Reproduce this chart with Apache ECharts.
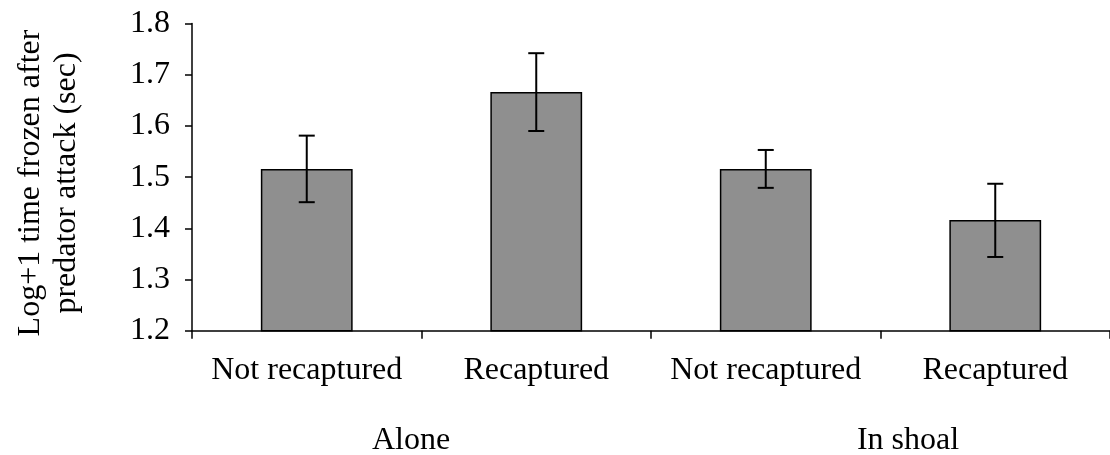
<!DOCTYPE html>
<html>
<head>
<meta charset="utf-8">
<script src="https://cdn.jsdelivr.net/npm/echarts@6/dist/echarts.min.js"></script>
<style>html,body{margin:0;padding:0;background:#fff}#c{width:1110px;height:455px}</style>
</head>
<body>
<div id="c"></div>
<script>
const categories = ['Not recaptured', 'Recaptured', 'Not recaptured', 'Recaptured'];
const groups = ['Alone', 'In shoal'];
const means = [1.516, 1.666, 1.516, 1.416];
const errLow = [1.451, 1.590, 1.479, 1.344];
const errHigh = [1.581, 1.742, 1.553, 1.487];
const yTicks = [1.2, 1.3, 1.4, 1.5, 1.6, 1.7, 1.8];
const yTitle = ['Log+1 time frozen after', 'predator attack (sec)'];

const FONT = '"Liberation Serif", "Times New Roman", serif';
const FS = 32;
const chart = echarts.init(document.getElementById('c'));
const errData = categories.map((c, i) => [i, errLow[i], errHigh[i]]);

chart.setOption({
  animation: false,
  backgroundColor: '#fff',
  grid: { left: 192, top: 23.5, width: 925, height: 307.2 },
  xAxis: {
    type: 'category',
    data: categories,
    axisLine: { lineStyle: { color: '#000', width: 1.5 } },
    axisTick: { show: true, length: 8, inside: false, lineStyle: { color: '#000', width: 1.5 } },
    axisLabel: { color: '#000', fontFamily: FONT, fontSize: FS, margin: 24, interval: 0 }
  },
  yAxis: {
    type: 'value',
    min: 1.2, max: 1.8, interval: 0.1,
    splitLine: { show: false },
    axisLine: { show: true, lineStyle: { color: '#000', width: 1.5 } },
    axisTick: { show: true, length: 7, lineStyle: { color: '#000', width: 1.5 } },
    axisLabel: {
      color: '#000', fontFamily: FONT, fontSize: FS, margin: 22,
      formatter: v => { const t = yTicks.find(x => Math.abs(x - v) < 1e-6); return t !== undefined ? t.toFixed(1) : ''; }
    }
  },
  series: [
    {
      type: 'bar',
      data: means,
      barWidth: '40%',
      itemStyle: { color: '#8f8f8f', borderColor: '#000', borderWidth: 1.5 }
    },
    {
      type: 'custom',
      data: errData,
      z: 10,
      renderItem: (params, api) => {
        const x = api.value(0);
        const lo = api.coord([x, api.value(1)]);
        const hi = api.coord([x, api.value(2)]);
        const hw = 8;
        const style = { stroke: '#000', lineWidth: 2 };
        return {
          type: 'group',
          children: [
            { type: 'line', shape: { x1: lo[0], y1: lo[1], x2: hi[0], y2: hi[1] }, style },
            { type: 'line', shape: { x1: hi[0] - hw, y1: hi[1], x2: hi[0] + hw, y2: hi[1] }, style },
            { type: 'line', shape: { x1: lo[0] - hw, y1: lo[1], x2: lo[0] + hw, y2: lo[1] }, style }
          ]
        };
      }
    }
  ],
  graphic: [
    { type: 'text', x: 411, y: 441, style: { text: groups[0], font: FS + 'px ' + FONT, fill: '#000', align: 'center', verticalAlign: 'middle' } },
    { type: 'text', x: 908, y: 441, style: { text: groups[1], font: FS + 'px ' + FONT, fill: '#000', align: 'center', verticalAlign: 'middle' } },
    { type: 'text', x: 31, y: 183, rotation: Math.PI / 2, style: { text: yTitle[0], font: FS + 'px ' + FONT, fill: '#000', align: 'center', verticalAlign: 'middle' } },
    { type: 'text', x: 67, y: 183, rotation: Math.PI / 2, style: { text: yTitle[1], font: FS + 'px ' + FONT, fill: '#000', align: 'center', verticalAlign: 'middle' } }
  ]
});
</script>
</body>
</html>
